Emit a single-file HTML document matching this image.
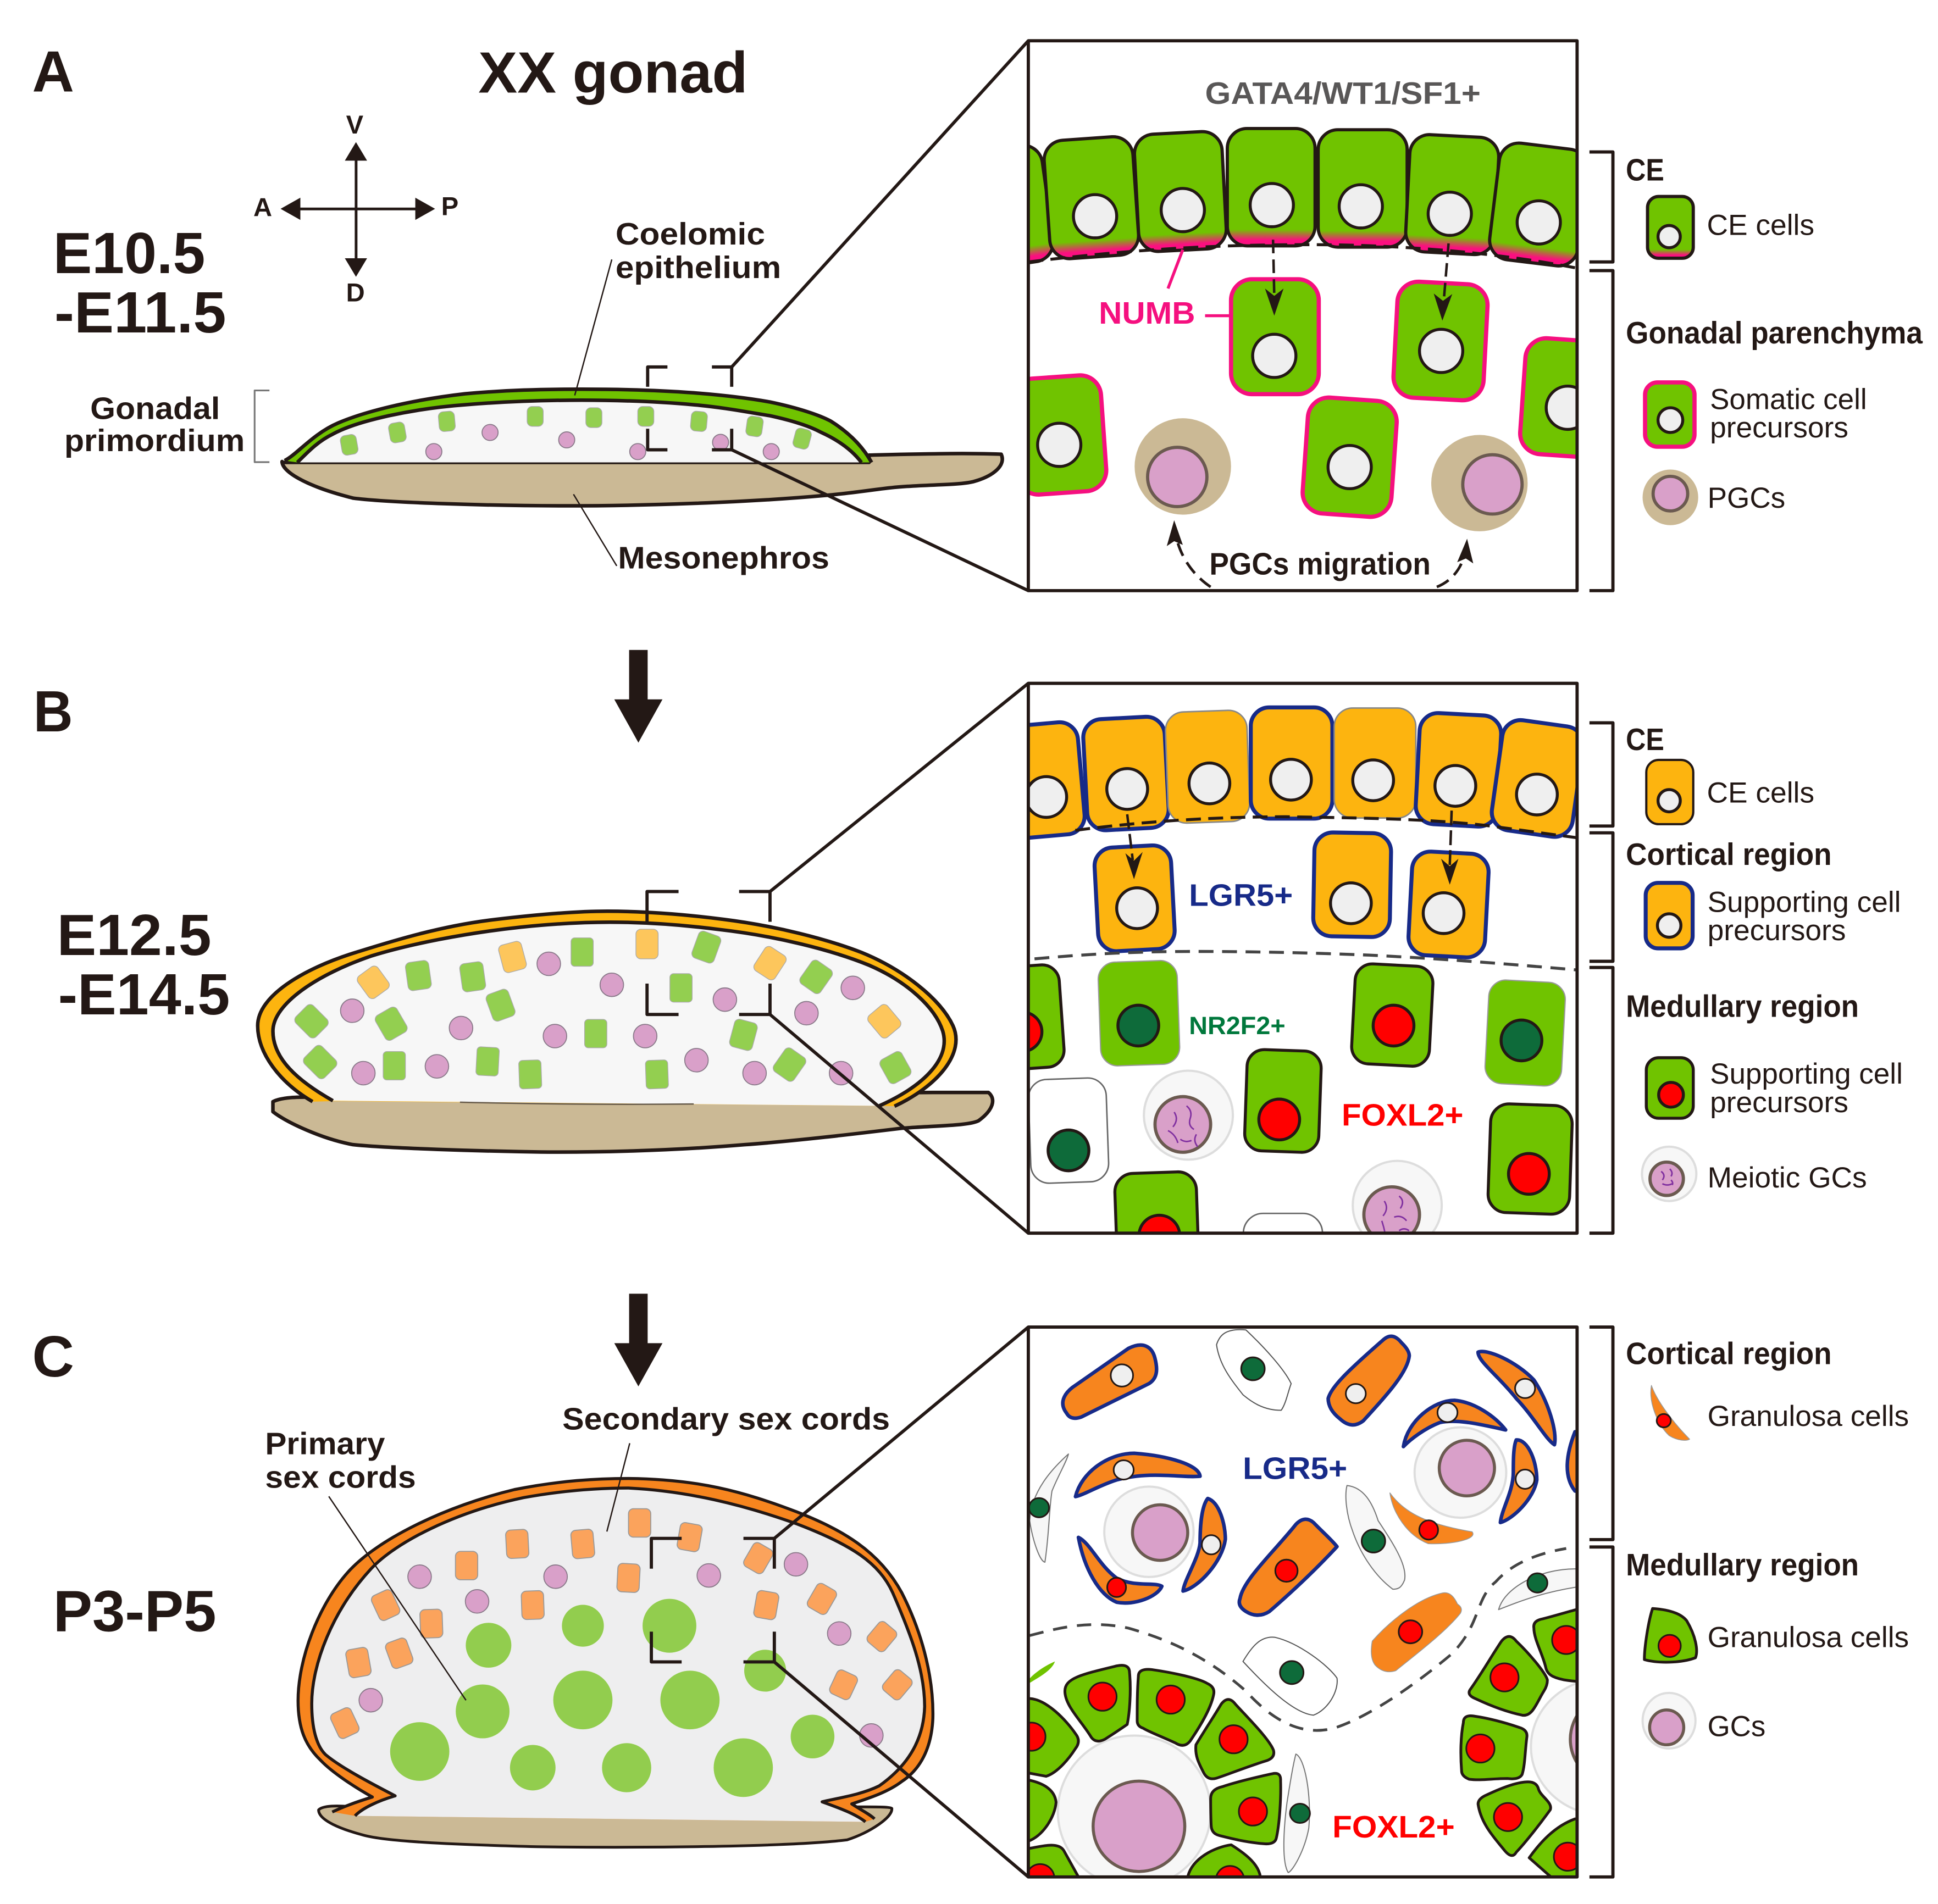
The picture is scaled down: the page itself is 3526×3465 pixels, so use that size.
<!DOCTYPE html>
<html><head><meta charset="utf-8"><title>XX gonad</title>
<style>
html,body{margin:0;padding:0;background:#fff}
svg{display:block}
path,rect,ellipse,circle{stroke-linejoin:round}
text{font-family:"Liberation Sans",sans-serif;fill:#231815}
.b{font-weight:bold;font-size:25px}
.big{font-weight:bold;font-size:47px}
.r{font-size:23.5px}
.ns{vector-effect:non-scaling-stroke}
.g{fill:#70c300;stroke:#231815;stroke-width:2.4}
.gg{fill:#70c300;stroke:#999;stroke-width:1}
.gp{fill:#70c300;stroke:#f5107f;stroke-width:3.4}
.grad{fill:url(#pg);stroke:#231815;stroke-width:2.6}
.n{fill:#efefef;stroke:#231815;stroke-width:2.4}
.red{fill:#ff0000;stroke:#231815;stroke-width:2.4}
.dg{fill:#0e6b3a;stroke:#231815;stroke-width:2.4}
.ob{fill:#fdb40f;stroke:#172a88;stroke-width:3.2}
.og{fill:#fdb40f;stroke:#888;stroke-width:1.2}
.pk{fill:#d9a0c9;stroke:#6b5a50;stroke-width:2.6}
.gc{fill:#f7f7f7;stroke:#ddd;stroke-width:1.8}
.w{fill:#fff;stroke:#666;stroke-width:1.2}
.sq{fill:none;stroke:#8030a0;stroke-width:1.2}
.sg{fill:#93cf50;stroke:#aaa;stroke-width:.6}
.sp{fill:#d9a0c9;stroke:#8a7a8a;stroke-width:.8}
.sy{fill:#fdc65c;stroke:#aaa;stroke-width:.6}
.so{fill:#fba35c;stroke:#999;stroke-width:.8}
.line{fill:none;stroke:#231815;stroke-width:2.6}
.thin{fill:none;stroke:#231815;stroke-width:1.1}
.zo{fill:#f7851e;stroke:#172a88;stroke-width:6.5;vector-effect:non-scaling-stroke}
.zop{fill:#f7851e;stroke:#999;stroke-width:1.5;vector-effect:non-scaling-stroke}
.zg{fill:#70c300;stroke:#231815;stroke-width:5;vector-effect:non-scaling-stroke}
.zw{fill:#fff;stroke:#555;stroke-width:2;vector-effect:non-scaling-stroke}
.zl{fill:#f7f7f7;stroke:#777;stroke-width:2;vector-effect:non-scaling-stroke}
.zr{fill:#ff0000;stroke:#231815;stroke-width:3;vector-effect:non-scaling-stroke}
.zd{fill:#0e6b3a;stroke:#231815;stroke-width:3;vector-effect:non-scaling-stroke}
.zn{fill:#efefef;stroke:#231815;stroke-width:3;vector-effect:non-scaling-stroke}
.zgc{fill:#f7f7f7;stroke:#ddd;stroke-width:4;vector-effect:non-scaling-stroke}
.zpk{fill:#d9a0c9;stroke:#6b5a50;stroke-width:5.5;vector-effect:non-scaling-stroke}
.zk{fill:none;stroke:#231815;stroke-width:6.5;vector-effect:non-scaling-stroke}
.zdash{fill:none;stroke:#444;stroke-width:5;stroke-dasharray:26 18;vector-effect:non-scaling-stroke}
</style></head>
<body>
<svg xmlns="http://www.w3.org/2000/svg" width="3526" height="3465" viewBox="0 0 1568 1540.9">
<defs>
<linearGradient id="pg" x1="0" y1="0" x2="0" y2="1">
<stop offset="0" stop-color="#70c300"/><stop offset=".86" stop-color="#70c300"/><stop offset=".95" stop-color="#fb0f80"/><stop offset="1" stop-color="#fb0f80"/>
</linearGradient>
<clipPath id="ca"><rect x="832" y="33" width="444" height="445"/></clipPath>
<clipPath id="cb"><rect x="832" y="553" width="444" height="445"/></clipPath>
<clipPath id="cc"><rect x="832" y="1074" width="444" height="445"/></clipPath>
</defs>
<rect width="1568" height="1541" fill="#fff"/>

<!-- Headings -->
<text class="big" x="26" y="74" textLength="34" lengthAdjust="spacingAndGlyphs">A</text>
<text class="big" x="387" y="75" textLength="218" lengthAdjust="spacingAndGlyphs">XX gonad</text>
<text class="big" x="43" y="221" textLength="123" lengthAdjust="spacingAndGlyphs">E10.5</text>
<text class="big" x="44" y="269" textLength="139" lengthAdjust="spacingAndGlyphs">-E11.5</text>
<text class="big" x="27" y="592" textLength="32" lengthAdjust="spacingAndGlyphs">B</text>
<text class="big" x="46" y="773" textLength="125" lengthAdjust="spacingAndGlyphs">E12.5</text>
<text class="big" x="47" y="821" textLength="139" lengthAdjust="spacingAndGlyphs">-E14.5</text>
<text class="big" x="26" y="1114" textLength="34" lengthAdjust="spacingAndGlyphs">C</text>
<text class="big" x="43" y="1320" textLength="132" lengthAdjust="spacingAndGlyphs">P3-P5</text>

<!-- Axis -->
<g fill="#231815">
<rect x="287" y="125" width="2.2" height="90"/><rect x="240" y="168" width="100" height="2.2"/>
<polygon points="288,115 279,130 297,130"/><polygon points="288,224 279,209 297,209"/>
<polygon points="227,169 243,160 243,178"/><polygon points="352,169 336,160 336,178"/>
</g>
<text class="b" style="font-size:21px" x="280" y="108">V</text>
<text class="b" style="font-size:21px" x="205" y="175">A</text>
<text class="b" style="font-size:21px" x="357" y="174">P</text>
<text class="b" style="font-size:21px" x="280" y="244">D</text>

<!-- Big arrows -->
<g fill="#231815">
<rect x="509" y="526" width="15" height="42"/><polygon points="497,566 536,566 516.5,601"/>
<rect x="509" y="1047" width="15" height="42"/><polygon points="497,1087 536,1087 516.5,1122"/>
</g>

<!-- Gonad A -->
<g transform="translate(191.200,266.800) scale(.4112,.1482)">
<path class="zk" fill="#cbb995" style="fill:#cbb995" d="M90,720 C90,770 130,850 230,920 C300,945 500,962 650,962 C800,962 1000,945 1160,905 C1220,890 1260,870 1300,860 C1360,845 1420,850 1450,830 C1490,800 1515,740 1505,680 C1430,672 1320,680 1245,685 L1245,725 L90,725Z"/>
<path d="M95,715 C120,680 150,570 200,510 C250,450 340,385 450,350 C530,330 600,325 680,325 C760,325 830,330 900,345 C960,358 1010,375 1050,395 C1110,430 1150,470 1170,500 C1210,570 1235,650 1250,725 L120,725Z" fill="#70c300"/>
<path d="M120,725 C140,670 160,610 190,570 C220,525 260,495 300,470 C350,440 400,420 450,410 C530,392 600,385 680,385 C760,385 840,395 900,410 C960,425 1005,450 1050,470 C1100,500 1130,530 1150,560 C1190,610 1215,670 1230,725Z" fill="#f7f7f7"/>
<path class="zk" d="M95,715 C120,680 150,570 200,510 C250,450 340,385 450,350 C530,330 600,325 680,325 C760,325 830,330 900,345 C960,358 1010,375 1050,395 C1110,430 1150,470 1170,500 C1210,570 1235,650 1250,725"/>
<path class="zk" d="M120,725 C140,670 160,610 190,570 C220,525 260,495 300,470 C350,440 400,420 450,410 C530,392 600,385 680,385 C760,385 840,395 900,410 C960,425 1005,450 1050,470 C1100,500 1130,530 1150,560 C1190,610 1215,670 1230,725"/>
</g>
<g class="sg">
<rect x="276" y="352" width="13" height="16" rx="4" transform="rotate(-10 282.5 360)"/>
<rect x="315" y="342" width="13" height="16" rx="4" transform="rotate(-10 321.5 350)"/>
<rect x="355" y="333" width="13" height="16" rx="4" transform="rotate(-5 361.5 341)"/>
<rect x="426.500" y="329" width="13" height="16" rx="4"/>
<rect x="474" y="330" width="13" height="16" rx="4"/>
<rect x="516" y="329" width="13" height="16" rx="4"/>
<rect x="559" y="333" width="13" height="16" rx="4" transform="rotate(5 565.5 341)"/>
<rect x="604" y="337" width="13" height="16" rx="4" transform="rotate(8 610 345)"/>
<rect x="642.500" y="347" width="13" height="16" rx="4" transform="rotate(15 649 355)"/>
</g>
<g class="sp">
<circle cx="351" cy="365.500" r="6.500"/><circle cx="396.500" cy="350" r="6.500"/><circle cx="458.500" cy="356" r="6.500"/><circle cx="516" cy="365.500" r="6.500"/><circle cx="583" cy="358" r="6.500"/><circle cx="624" cy="365.500" r="6.500"/>
</g>
<path class="thin" d="M495,210 L465,320"/><path class="thin" d="M499,458 L464,400"/>
<path fill="none" stroke="#777" stroke-width="1.400" d="M218,316 H206 V374 H218"/>
<text class="b" x="498" y="198" textLength="121" lengthAdjust="spacingAndGlyphs">Coelomic</text>
<text class="b" x="498" y="225" textLength="134" lengthAdjust="spacingAndGlyphs">epithelium</text>
<text class="b" x="73" y="339" textLength="105" lengthAdjust="spacingAndGlyphs">Gonadal</text>
<text class="b" x="52" y="365" textLength="146" lengthAdjust="spacingAndGlyphs">primordium</text>
<text class="b" x="500" y="460" textLength="171" lengthAdjust="spacingAndGlyphs">Mesonephros</text>
<path class="line" d="M540,297 H524 V313 M576,297 H592 V313 M524,347 V364 H540 M576,364 H592 V347"/>
<path class="line" d="M592,297 L832,33 M592,364 L832,478"/>

<!-- Panel A -->
<rect x="832" y="33" width="444" height="445" fill="#fff"/>
<g clip-path="url(#ca)">
<rect class="grad" x="776" y="120" width="72" height="95" rx="16" transform="rotate(-8 812 167)"/>
<rect class="grad" x="847" y="112" width="72" height="96" rx="16" transform="rotate(-4 883 160)"/>
<rect class="grad" x="919.500" y="107.500" width="71" height="95" rx="16" transform="rotate(-3 955 155)"/>
<rect class="grad" x="993" y="104" width="71" height="95" rx="16"/>
<rect class="grad" x="1066.500" y="105" width="72" height="95" rx="16"/>
<rect class="grad" x="1139" y="110" width="72" height="95" rx="16" transform="rotate(3 1175 157)"/>
<rect class="grad" x="1209" y="118" width="72" height="95" rx="16" transform="rotate(7 1245 165)"/>
<path d="M832,212 C930,200 1000,198 1060,198 C1130,198 1210,204 1276,217" fill="none" stroke="#231815" stroke-width="2.400" stroke-dasharray="12 6"/>
<circle class="n" cx="886" cy="175" r="17.500"/><circle class="n" cx="957" cy="170" r="17.500"/><circle class="n" cx="1029" cy="166" r="17.500"/><circle class="n" cx="1101" cy="167" r="17.500"/><circle class="n" cx="1173" cy="173" r="17.500"/><circle class="n" cx="1245" cy="180" r="17.500"/>
<rect class="gp" x="996" y="226" width="71" height="93" rx="17"/>
<rect class="gp" x="1129" y="229" width="73" height="94" rx="17" transform="rotate(3 1166 276)"/>
<rect class="gp" x="1232" y="275" width="72" height="94" rx="17" transform="rotate(4 1268 322)"/>
<rect class="gp" x="821" y="305" width="72" height="94" rx="17" transform="rotate(-4 857 352)"/>
<rect class="gp" x="1056" y="323" width="72" height="94" rx="17" transform="rotate(4 1092 370)"/>
<circle class="n" cx="1031" cy="288" r="17.500"/><circle class="n" cx="1166" cy="284" r="17.500"/><circle class="n" cx="1268.500" cy="330" r="17.500"/><circle class="n" cx="857" cy="360" r="17.500"/><circle class="n" cx="1092" cy="378" r="17.500"/>
<circle cx="957" cy="377.500" r="39" fill="#cbb995"/><circle class="pk" cx="952.500" cy="386" r="24"/>
<circle cx="1197" cy="391" r="39" fill="#cbb995"/><circle class="pk" cx="1207.500" cy="392" r="24"/>
<path d="M1030,194 L1031,240" fill="none" stroke="#231815" stroke-width="2" stroke-dasharray="11 5"/>
<path d="M1031,255.500 l-7.500,-22 l7.500,6 l7.500,-6Z" fill="#231815"/>
<path d="M1172,197 L1168,245" fill="none" stroke="#231815" stroke-width="2" stroke-dasharray="11 5"/>
<path d="M1167,259.500 l-7,-22 l7.500,6 l7.500,-5.500Z" fill="#231815"/>
<path d="M957,202 L945,233.500 M975,255.500 H995" fill="none" stroke="#f5107f" stroke-width="2.400"/>
<path d="M979.500,475 C966,466 956,452 952,436" fill="none" stroke="#231815" stroke-width="2.200" stroke-dasharray="11 6"/>
<path d="M950,421 l-6,21 l6,-4 l7,3Z" fill="#231815"/>
<path d="M1162.500,475 C1175,470 1182,460 1185,449" fill="none" stroke="#231815" stroke-width="2.200" stroke-dasharray="11 6"/>
<path d="M1187,436 l-8,19 l7,-3 l6,4Z" fill="#231815"/>
</g>
<rect x="832" y="33" width="444" height="445" fill="none" stroke="#231815" stroke-width="2.600"/>
<text class="b" style="fill:#595757" x="975" y="84" textLength="223" lengthAdjust="spacingAndGlyphs">GATA4/WT1/SF1+</text>
<text class="b" style="fill:#f5107f" x="889" y="262" textLength="78" lengthAdjust="spacingAndGlyphs">NUMB</text>
<text class="b" x="978.500" y="465" textLength="179" lengthAdjust="spacingAndGlyphs">PGCs migration</text>

<!-- Legend A -->
<path class="line" d="M1286,123 H1305 V212 H1286 M1286,219 H1305 V478 H1286"/>
<text class="b" x="1315.500" y="146" textLength="31" lengthAdjust="spacingAndGlyphs">CE</text>
<rect class="grad" x="1333" y="159" width="37" height="50" rx="9"/>
<circle class="n" cx="1350.500" cy="191.500" r="9"/>
<text class="r" x="1381" y="190" textLength="87" lengthAdjust="spacingAndGlyphs">CE cells</text>
<text class="b" x="1315.500" y="278" textLength="240" lengthAdjust="spacingAndGlyphs">Gonadal parenchyma</text>
<rect class="gp" x="1331" y="309.500" width="40" height="52" rx="10"/>
<circle class="n" cx="1351.500" cy="340" r="10"/>
<text class="r" x="1383.500" y="331" textLength="127" lengthAdjust="spacingAndGlyphs">Somatic cell</text>
<text class="r" x="1383.500" y="354" textLength="112" lengthAdjust="spacingAndGlyphs">precursors</text>
<circle cx="1351.500" cy="402.500" r="22.500" fill="#cbb995"/><circle class="pk" cx="1351.500" cy="399.500" r="14"/>
<text class="r" x="1381.500" y="411" textLength="63" lengthAdjust="spacingAndGlyphs">PGCs</text>

<!-- Gonad B -->
<g transform="translate(191.200,711.500) scale(.4112,.1482)">
<path class="zk" style="fill:#cbb995" d="M72,1215 C90,1190 120,1190 150,1190 L1370,1165 L1480,1165 C1495,1200 1490,1260 1460,1320 C1440,1345 1390,1345 1310,1360 C1220,1390 1100,1430 1000,1450 C850,1485 700,1492 600,1490 C480,1485 300,1470 230,1450 C170,1420 100,1330 72,1270Z"/>
<path d="M150,1215 C85,1110 42,950 42,800 C42,640 130,490 235,400 C300,344 400,255 510,220 C580,197 660,175 730,175 C810,175 885,193 960,220 C1060,255 1160,325 1230,400 C1310,490 1385,650 1410,800 C1435,950 1380,1130 1295,1240 L1265,1238 L190,1212Z" fill="#fdb40f"/>
<path d="M190,1210 C120,1100 72,980 72,830 C72,680 160,520 265,420 C340,355 450,295 560,262 C620,245 680,235 735,235 C810,235 880,250 950,275 C1060,310 1170,385 1245,470 C1320,560 1375,700 1390,830 C1405,970 1360,1120 1265,1238Z" fill="#f7f7f7"/>
<path class="zk" d="M150,1215 C85,1110 42,950 42,800 C42,640 130,490 235,400 C300,344 400,255 510,220 C580,197 660,175 730,175 C810,175 885,193 960,220 C1060,255 1160,325 1230,400 C1310,490 1385,650 1410,800 C1435,950 1380,1130 1295,1240"/>
<path class="zk" d="M190,1210 C120,1100 72,980 72,830 C72,680 160,520 265,420 C340,355 450,295 560,262 C620,245 680,235 735,235 C810,235 880,250 950,275 C1060,310 1170,385 1245,470 C1320,560 1375,700 1390,830 C1405,970 1360,1120 1265,1238"/>
<path d="M440,1218 Q680,1234 900,1228" fill="none" stroke="#665a4a" stroke-width="2.500" class="ns"/>
</g>
<g class="sy">
<rect x="292" y="784" width="20" height="22" rx="4" transform="rotate(-36 302 795)"/>
<rect x="405" y="763" width="19" height="23" rx="4" transform="rotate(-15 414.500 774)"/>
<rect x="514.500" y="752" width="18" height="24" rx="4"/>
<rect x="613" y="768" width="20" height="23" rx="4" transform="rotate(33 623 779.500)"/>
<rect x="705.500" y="815" width="20" height="23" rx="4" transform="rotate(-40 715.500 826.500)"/>
</g>
<g class="sg">
<rect x="462" y="759" width="18" height="23" rx="3"/>
<rect x="562" y="755" width="19" height="23" rx="4" transform="rotate(20 571.500 766.500)"/>
<rect x="329" y="778" width="19" height="23" rx="4" transform="rotate(-8 338.500 789.500)"/>
<rect x="373" y="779" width="19" height="23" rx="4" transform="rotate(-8 382.500 791)"/>
<rect x="395.500" y="802" width="19" height="23" rx="4" transform="rotate(-20 405 813.500)"/>
<rect x="542" y="788" width="18" height="23" rx="3"/>
<rect x="650" y="779" width="20" height="23" rx="4" transform="rotate(35 660 791)"/>
<rect x="306.500" y="817" width="20" height="23" rx="4" transform="rotate(-30 316.500 828.500)"/>
<rect x="242" y="815" width="20" height="23" rx="4" transform="rotate(-45 252 826.500)"/>
<rect x="249" y="848" width="20" height="23" rx="4" transform="rotate(-45 259 859.500)"/>
<rect x="310" y="851" width="18" height="23" rx="3"/>
<rect x="385.500" y="847.500" width="18" height="23" rx="3" transform="rotate(3 394.500 859)"/>
<rect x="420" y="858" width="18" height="23" rx="3" transform="rotate(-2 429 869.500)"/>
<rect x="473" y="825" width="18" height="23" rx="3"/>
<rect x="592" y="826" width="19" height="23" rx="4" transform="rotate(15 601.500 837.500)"/>
<rect x="522.500" y="858" width="18" height="23" rx="3" transform="rotate(-2 531.500 869.500)"/>
<rect x="628.500" y="850" width="20" height="23" rx="4" transform="rotate(35 638.500 862)"/>
<rect x="714.500" y="853" width="20" height="22" rx="4" transform="rotate(-29 724.500 864)"/>
</g>
<g class="sp">
<circle cx="444" cy="780" r="9.500"/><circle cx="495" cy="797" r="9.500"/><circle cx="285" cy="818" r="9.500"/><circle cx="373" cy="832" r="9.500"/><circle cx="690" cy="799.500" r="9.500"/><circle cx="586.500" cy="809" r="9.500"/><circle cx="652.500" cy="820" r="9.500"/><circle cx="449" cy="838.500" r="9.500"/><circle cx="522" cy="838.500" r="9.500"/><circle cx="294" cy="868.500" r="9.500"/><circle cx="353.500" cy="863" r="9.500"/><circle cx="563.500" cy="858" r="9.500"/><circle cx="610.500" cy="868.500" r="9.500"/><circle cx="680.500" cy="868.500" r="9.500"/>
</g>
<path class="line" d="M549,721.500 H523.500 V746 M598,721.500 H623 V746 M523.500,796 V821 H549 M598,821 H623 V796"/>
<path class="line" d="M623,721.500 L832,553 M623,821 L832,998"/>

<!-- Panel B -->
<rect x="832" y="553" width="444" height="445" fill="#fff"/>
<g clip-path="url(#cb)">
<rect class="ob" x="809" y="586" width="66" height="91" rx="15" transform="rotate(-5 842 632)"/>
<rect class="ob" x="878" y="581" width="66" height="90" rx="15" transform="rotate(-3 911 626)"/>
<rect class="og" x="944" y="575.500" width="66" height="90" rx="15" transform="rotate(-2 977 620)"/>
<rect class="ob" x="1012" y="572.500" width="66" height="90" rx="15"/>
<rect class="og" x="1079.500" y="573" width="66" height="89" rx="15"/>
<rect class="ob" x="1147" y="578" width="66" height="90" rx="15" transform="rotate(3 1180 623)"/>
<rect class="ob" x="1211" y="585" width="66" height="90" rx="15" transform="rotate(8 1244 630)"/>
<path d="M870,672 C930,664 990,661 1040,661 C1110,662 1170,663 1217,670 L1276,678" fill="none" stroke="#231815" stroke-width="2.400" stroke-dasharray="12 6"/>
<circle class="n" cx="846.500" cy="645" r="16.500"/><circle class="n" cx="912" cy="638.500" r="16.500"/><circle class="n" cx="978.500" cy="634" r="16.500"/><circle class="n" cx="1044.500" cy="631" r="16.500"/><circle class="n" cx="1111" cy="631.500" r="16.500"/><circle class="n" cx="1177.500" cy="636" r="16.500"/><circle class="n" cx="1243.500" cy="643" r="16.500"/>
<rect class="ob" x="887" y="685" width="62" height="84" rx="15" transform="rotate(-3 918 727)"/>
<rect class="ob" x="1063" y="674" width="62" height="84" rx="15" transform="rotate(1 1094 716)"/>
<rect class="ob" x="1141" y="690" width="62" height="84" rx="15" transform="rotate(3 1172 732)"/>
<circle class="n" cx="920" cy="735" r="16.500"/><circle class="n" cx="1093" cy="731" r="16.500"/><circle class="n" cx="1168" cy="739" r="16.500"/>
<path d="M912,659 L916.500,696 M1174.500,656 L1173,700" fill="none" stroke="#231815" stroke-width="2" stroke-dasharray="12 4"/>
<path d="M917.500,711.500 l-7,-21 l7,6 l7,-7Z M1173,716 l-7,-21 l7,6 l7,-6Z" fill="#231815"/>
<path d="M837,776 C880,772 920,770 965,770 C1010,770 1060,771 1108,773 C1170,776 1230,781 1276,785" fill="none" stroke="#444" stroke-width="2.400" stroke-dasharray="12 7"/>
<rect class="g" x="797" y="782" width="62" height="83" rx="14" transform="rotate(-4 828 823)"/><circle class="red" cx="827" cy="835" r="16"/>
<rect class="gg" x="889.500" y="778" width="64" height="84" rx="14" transform="rotate(-2 921 820)"/><circle class="dg" cx="921" cy="830" r="16.500"/>
<rect class="g" x="1095" y="781" width="63" height="81" rx="14" transform="rotate(3 1127 821)"/><circle class="red" cx="1127.500" cy="830" r="16.500"/>
<rect class="gg" x="1203" y="794" width="62" height="84" rx="14" transform="rotate(3 1234 836)"/><circle class="dg" cx="1231" cy="842" r="16.500"/>
<rect class="g" x="1008" y="850" width="60" height="82" rx="14" transform="rotate(2 1038 891)"/><circle class="red" cx="1035" cy="906" r="16.500"/>
<rect class="g" x="1205" y="894" width="66" height="88" rx="15" transform="rotate(2 1238 938)"/><circle class="red" cx="1237" cy="950" r="16.500"/>
<rect class="g" x="903" y="949" width="66" height="88" rx="15" transform="rotate(-2 936 992)"/><circle class="red" cx="938" cy="1000" r="16.500"/>
<rect class="w" x="833" y="873" width="63" height="84" rx="15" transform="rotate(-2 864 914)"/><circle class="dg" cx="864.500" cy="931" r="16.500"/>
<rect class="w" x="1006" y="982" width="64" height="84" rx="16"/>
<circle class="gc" cx="961.500" cy="902.500" r="36"/><circle class="pk" cx="957" cy="910" r="22.500"/>
<path class="sq" d="M950,900 q4,6 -1,12 M960,895 q5,4 3,10 q-2,6 3,9 M945,915 q6,3 8,10 M968,918 q-3,5 1,10 M955,922 q4,3 9,1"/>
<circle class="gc" cx="1130.500" cy="975.500" r="36"/><circle class="pk" cx="1126" cy="983" r="22.500"/>
<path class="sq" d="M1120,972 q4,6 -1,12 M1132,968 q5,4 1,10 M1118,988 q2,6 3,12 M1128,985 q6,-2 10,3 M1132,996 q4,-3 8,0"/>
</g>
<rect x="832" y="553" width="444" height="445" fill="none" stroke="#231815" stroke-width="2.600"/>
<text class="b" style="fill:#172a88" x="962" y="733" textLength="84" lengthAdjust="spacingAndGlyphs">LGR5+</text>
<text class="b" style="fill:#00783c;font-size:20px" x="962" y="837" textLength="78" lengthAdjust="spacingAndGlyphs">NR2F2+</text>
<text class="b" style="fill:#ff0000" x="1085.500" y="911" textLength="98.500" lengthAdjust="spacingAndGlyphs">FOXL2+</text>

<!-- Legend B -->
<path class="line" d="M1286,585 H1305 V668.500 H1286 M1286,674 H1305 V778 H1286 M1286,783 H1305 V998 H1286"/>
<text class="b" x="1315.500" y="607" textLength="31" lengthAdjust="spacingAndGlyphs">CE</text>
<rect x="1332" y="615" width="38" height="52" rx="10" fill="#fdb40f" stroke="#231815" stroke-width="1.800"/>
<circle class="n" cx="1350.500" cy="648" r="9"/>
<text class="r" x="1381" y="649.500" textLength="87" lengthAdjust="spacingAndGlyphs">CE cells</text>
<text class="b" x="1315.500" y="700" textLength="166.500" lengthAdjust="spacingAndGlyphs">Cortical region</text>
<rect class="ob" x="1331.500" y="714.500" width="38" height="53" rx="10"/>
<circle class="n" cx="1350.500" cy="749" r="9.500"/>
<text class="r" x="1381.500" y="738" textLength="156.500" lengthAdjust="spacingAndGlyphs">Supporting cell</text>
<text class="r" x="1381.500" y="761" textLength="112" lengthAdjust="spacingAndGlyphs">precursors</text>
<text class="b" x="1315.500" y="823" textLength="188.500" lengthAdjust="spacingAndGlyphs">Medullary region</text>
<rect class="g" x="1332" y="856" width="38" height="49" rx="10"/>
<circle class="red" cx="1352" cy="886" r="10"/>
<text class="r" x="1383.500" y="877" textLength="156" lengthAdjust="spacingAndGlyphs">Supporting cell</text>
<text class="r" x="1383.500" y="900" textLength="112" lengthAdjust="spacingAndGlyphs">precursors</text>
<circle class="gc" cx="1350.500" cy="950" r="22"/><circle class="pk" cx="1348.500" cy="954" r="13.500"/>
<path class="sq" d="M1344,948 q4,3 1,7 M1351,946 q3,3 1,6 M1345,958 q4,2 8,0 M1352,955 q2,2 1,4"/>
<text class="r" x="1381.500" y="961" textLength="129" lengthAdjust="spacingAndGlyphs">Meiotic GCs</text>

<!-- Gonad C -->
<g transform="translate(213.500,1134) scale(.3687,.2423)">
<path d="M120,1365 C130,1350 160,1350 200,1355 L1320,1355 C1345,1355 1375,1355 1378,1360 C1380,1390 1330,1440 1280,1465 C1150,1490 800,1492 600,1488 C400,1480 270,1470 220,1450 C170,1430 120,1400 120,1365Z" fill="#cbb995" stroke="#231815" stroke-width="5" class="ns"/>
<path d="M150,1372 C180,1350 210,1335 238,1322 C200,1290 150,1240 125,1200 C90,1150 75,1090 75,1000 C75,860 120,680 185,570 C250,460 400,350 550,295 C650,265 730,258 800,258 C950,260 1050,300 1170,370 C1270,430 1350,500 1400,640 C1450,790 1470,940 1468,1060 C1465,1160 1440,1230 1400,1270 C1370,1305 1330,1325 1290,1345 C1310,1365 1330,1380 1340,1395 L1320,1405 L200,1385Z" fill="#f7851e"/>
<path d="M200,1385 C215,1360 250,1335 288,1318 C240,1280 170,1225 135,1180 C115,1150 105,1090 105,1010 C105,880 150,700 235,560 C290,470 420,370 570,322 C650,300 730,290 800,290 C930,300 1050,345 1170,410 C1290,480 1350,540 1380,640 C1420,780 1450,900 1450,1020 C1448,1120 1420,1210 1350,1285 C1310,1315 1260,1325 1225,1338 C1265,1360 1300,1380 1320,1405Z" fill="#eeeeef"/>
<path class="zk" style="stroke-width:5.500" d="M150,1372 C180,1350 210,1335 238,1322 C200,1290 150,1240 125,1200 C90,1150 75,1090 75,1000 C75,860 120,680 185,570 C250,460 400,350 550,295 C650,265 730,258 800,258 C950,260 1050,300 1170,370 C1270,430 1350,500 1400,640 C1450,790 1470,940 1468,1060 C1465,1160 1440,1230 1400,1270 C1370,1305 1330,1325 1290,1345 C1310,1365 1330,1380 1340,1395"/>
<path class="zk" style="stroke-width:5.500" d="M200,1385 C215,1360 250,1335 288,1318 C240,1280 170,1225 135,1180 C115,1150 105,1090 105,1010 C105,880 150,700 235,560 C290,470 420,370 570,322 C650,300 730,290 800,290 C930,300 1050,345 1170,410 C1290,480 1350,540 1380,640 C1420,780 1450,900 1450,1020 C1448,1120 1420,1210 1350,1285 C1310,1315 1260,1325 1225,1338 C1265,1360 1300,1380 1320,1405"/>
<g fill="#92cd4e">
<ellipse cx="890" cy="750" rx="59" ry="90"/><ellipse cx="700" cy="750" rx="46" ry="70"/><ellipse cx="493" cy="815" rx="50" ry="75"/><ellipse cx="1100" cy="900" rx="46" ry="70"/><ellipse cx="700" cy="998" rx="65" ry="98"/><ellipse cx="935" cy="998" rx="65" ry="98"/><ellipse cx="480" cy="1036" rx="59" ry="90"/><ellipse cx="342" cy="1170" rx="65" ry="98"/><ellipse cx="1204" cy="1120" rx="48" ry="73"/><ellipse cx="590" cy="1224" rx="50" ry="76"/><ellipse cx="796" cy="1224" rx="54" ry="82"/><ellipse cx="1052" cy="1224" rx="65" ry="98"/>
</g>
</g>
<g class="so">
<rect x="508.500" y="1221" width="18" height="23" rx="4"/>
<rect x="549" y="1233" width="18" height="22" rx="4" transform="rotate(10 558 1244)"/>
<rect x="462.500" y="1238" width="18" height="23" rx="4" transform="rotate(-5 471.500 1249.500)"/>
<rect x="409.500" y="1238" width="18" height="23" rx="4" transform="rotate(-3 418.500 1249.500)"/>
<rect x="368.500" y="1255.500" width="18" height="23" rx="4"/>
<rect x="499.500" y="1265.500" width="18" height="23" rx="4" transform="rotate(3 508.500 1277)"/>
<rect x="604.500" y="1250" width="18" height="22" rx="4" transform="rotate(30 613.500 1261)"/>
<rect x="422" y="1287.500" width="18" height="23" rx="4" transform="rotate(-2 431 1299)"/>
<rect x="611" y="1288" width="18" height="22" rx="4" transform="rotate(10 620 1299)"/>
<rect x="656" y="1283" width="18" height="22" rx="4" transform="rotate(30 665 1294)"/>
<rect x="303" y="1288" width="18" height="22" rx="4" transform="rotate(-25 312 1299)"/>
<rect x="340" y="1302.500" width="18" height="23" rx="4" transform="rotate(-2 349 1314)"/>
<rect x="704.500" y="1314" width="18" height="21" rx="4" transform="rotate(40 713.500 1324.500)"/>
<rect x="281" y="1334" width="18" height="23" rx="4" transform="rotate(-10 290 1345.500)"/>
<rect x="314" y="1327" width="18" height="22" rx="4" transform="rotate(-20 323 1338)"/>
<rect x="673.500" y="1353" width="18" height="21" rx="4" transform="rotate(25 682.500 1363.500)"/>
<rect x="717" y="1353" width="18" height="21" rx="4" transform="rotate(40 726 1363.500)"/>
<rect x="270" y="1383.500" width="18" height="22" rx="4" transform="rotate(-25 279 1394.500)"/>
</g>
<g class="sp">
<circle cx="339.500" cy="1276" r="9.500"/><circle cx="449.500" cy="1276" r="9.500"/><circle cx="386" cy="1296" r="9.500"/><circle cx="573.500" cy="1275" r="9.500"/><circle cx="644" cy="1266" r="9.500"/><circle cx="679" cy="1322" r="9.500"/><circle cx="300" cy="1376" r="9.500"/><circle cx="705" cy="1404.500" r="9.500"/>
</g>
<path class="thin" d="M509.500,1168 L491,1239.500 M266,1211 L377,1376"/>
<text class="b" x="455" y="1157" textLength="265" lengthAdjust="spacingAndGlyphs">Secondary sex cords</text>
<text class="b" x="214.500" y="1177" textLength="97" lengthAdjust="spacingAndGlyphs">Primary</text>
<text class="b" x="214.500" y="1204" textLength="122" lengthAdjust="spacingAndGlyphs">sex cords</text>
<path class="line" d="M551.500,1245 H527 V1269.500 M601.500,1245 H626.500 V1269.500 M527,1320.500 V1345 H551.500 M601.500,1345 H626.500 V1320.500"/>
<path class="line" d="M626.500,1245 L832,1074 M626.500,1345 L832,1519"/>

<!-- Panel C -->
<rect x="832" y="1074" width="444" height="445" fill="#fff"/>
<g clip-path="url(#cc)">
<g transform="translate(822.600,1062.800) scale(.4755,.2998)">
<path class="zo" d="M85,270 C75,250 75,225 95,200 L190,95 C215,75 230,90 235,120 C240,150 240,175 225,190 L110,280 Q92,290 85,270Z"/>
<ellipse class="zn" cx="179" cy="168" rx="19" ry="30"/>
<path class="zw" d="M340,85 C345,60 355,40 390,45 C420,90 455,150 467,190 C462,210 458,245 450,262 C420,262 400,240 385,220 C365,180 345,140 340,85Z"/>
<ellipse class="zd" cx="402" cy="150" rx="20" ry="31"/>
<path class="zo" d="M530,230 C535,200 560,160 625,70 Q640,50 655,80 Q668,100 668,115 C665,160 630,220 590,290 Q570,315 550,285 Q530,260 530,230Z"/>
<ellipse class="zn" cx="577" cy="217" rx="17" ry="26"/>
<path class="zo" d="M785,105 C800,95 850,130 880,180 C905,240 920,320 915,355 C900,340 880,280 850,230 C820,170 785,130 785,105Z"/>
<ellipse class="zn" cx="865" cy="203" rx="17" ry="26"/>
<ellipse class="zgc" cx="755" cy="430" rx="78" ry="122"/>
<ellipse class="zpk" cx="766" cy="418" rx="47" ry="75"/>
<path class="zo" d="M658,360 C665,290 710,235 745,235 C780,240 815,280 832,315 C790,300 750,285 720,295 C695,310 670,340 658,360Z"/>
<ellipse class="zn" cx="733" cy="268" rx="17" ry="26"/>
<path class="zo" d="M850,342 C870,340 885,400 885,450 C880,500 845,555 823,565 C825,530 845,480 845,430 C845,400 845,360 850,342Z"/>
<ellipse class="zn" cx="865" cy="448" rx="16" ry="26"/>
<path class="zo" d="M950,320 C935,380 930,440 950,480 L970,480 L970,320Z"/>
<path class="zop" d="M635,485 C660,540 700,570 775,590 C785,610 740,625 700,622 C665,600 640,540 635,485Z"/>
<ellipse class="zr" cx="701" cy="585" rx="16" ry="26"/>
<path class="zl" d="M562,465 C590,470 605,510 615,560 C640,620 665,680 660,720 C655,740 650,745 640,745 C610,710 585,650 572,590 C560,540 558,490 562,465Z"/>
<ellipse class="zd" cx="607" cy="615" rx="20" ry="31"/>
<path class="zl" d="M88,380 C60,420 25,480 22,560 C28,620 40,670 48,672 C55,600 55,530 60,480 C70,440 85,400 88,380Z"/>
<ellipse class="zd" cx="38" cy="525" rx="17" ry="26"/>
<ellipse class="zgc" cx="225" cy="590" rx="76" ry="122"/>
<ellipse class="zpk" cx="244" cy="592" rx="47" ry="75"/>
<path class="zo" d="M100,495 C110,430 155,378 200,378 C260,385 310,410 312,440 C280,445 230,425 170,450 C140,465 115,490 100,495Z"/>
<ellipse class="zn" cx="182" cy="423" rx="17" ry="26"/>
<path class="zo" d="M325,500 C345,510 355,570 355,610 C350,670 310,740 283,750 C285,720 310,660 312,620 C312,570 315,520 325,500Z"/>
<ellipse class="zn" cx="331" cy="625" rx="16" ry="26"/>
<path class="zo" d="M105,605 C125,620 140,680 170,715 C200,740 235,725 247,737 C240,765 200,790 170,780 C140,760 115,690 105,605Z"/>
<ellipse class="zr" cx="170" cy="740" rx="16" ry="26"/>
<path class="zo" d="M380,770 C385,720 440,640 475,570 Q490,545 505,565 C520,590 535,610 545,630 C510,690 470,750 430,805 Q410,825 390,805 Q375,790 380,770Z"/>
<ellipse class="zr" cx="459" cy="695" rx="19" ry="30"/>
<path class="zdash" d="M22,870 C60,855 120,825 190,850 C280,890 340,950 390,1020 C430,1090 480,1145 540,1120 C600,1090 680,1000 740,920 C790,840 780,770 815,725 C840,680 880,650 935,635"/>
<path class="zop" d="M605,885 C630,840 680,770 725,755 Q740,750 750,785 Q760,795 755,810 C730,860 680,920 645,965 Q625,975 610,950 Q600,930 605,885Z"/>
<ellipse class="zr" cx="670" cy="860" rx="20" ry="31"/>
<path class="zl" d="M820,800 C830,740 890,690 950,690 L970,690 L970,735 C900,750 860,775 820,800Z"/>
<ellipse class="zd" cx="886" cy="728" rx="17" ry="26"/>
<path class="zw" d="M385,940 C400,900 415,870 440,875 C480,890 530,950 545,985 C548,1020 530,1070 505,1085 C470,1080 420,1000 385,940Z"/>
<ellipse class="zd" cx="468" cy="970" rx="20" ry="31"/>
<ellipse class="zgc" cx="200" cy="1345" rx="130" ry="205"/>
<ellipse class="zpk" cx="208" cy="1385" rx="78" ry="122"/>
<path class="zg" d="M82,1020 C82,985 110,975 170,952 Q192,945 192,970 C195,1020 192,1080 188,1110 Q170,1130 150,1150 Q135,1162 127,1145 C110,1100 82,1060 82,1020Z"/>
<ellipse class="zr" cx="146" cy="1035" rx="24" ry="38"/>
<path class="zg" d="M207,980 Q207,958 230,962 C265,970 310,985 325,1000 Q338,1010 335,1030 C330,1070 310,1120 295,1155 Q285,1175 270,1160 C250,1145 225,1130 215,1120 Q205,1115 205,1100 C205,1060 205,1020 207,980Z"/>
<ellipse class="zr" cx="262" cy="1043" rx="24" ry="38"/>
<path class="zg" d="M348,1055 Q360,1030 372,1055 C395,1095 430,1150 437,1180 Q440,1200 425,1208 C390,1225 360,1245 340,1255 Q325,1262 318,1240 C310,1215 303,1195 305,1165 C320,1125 335,1090 348,1055Z"/>
<ellipse class="zr" cx="369" cy="1150" rx="24" ry="38"/>
<path class="zg" d="M330,1310 Q330,1285 350,1278 C380,1262 415,1250 435,1243 Q450,1238 449,1262 C450,1310 447,1380 442,1415 Q440,1435 420,1432 C390,1428 365,1418 345,1410 Q332,1405 331,1385 C330,1360 330,1335 330,1310Z"/>
<ellipse class="zr" cx="402" cy="1345" rx="24" ry="38"/>
<path class="zg" d="M0,1040 L20,1040 C50,1040 85,1100 100,1135 Q110,1155 100,1175 C90,1200 70,1240 50,1250 L0,1235Z"/>
<ellipse class="zr" cx="25" cy="1143" rx="24" ry="38"/>
<path class="zg" d="M0,1260 L20,1260 C50,1270 65,1290 67,1320 C65,1360 45,1410 20,1425 L0,1430Z"/>
<path class="zg" d="M0,1445 L20,1445 C40,1440 70,1425 80,1450 L108,1530 L0,1530Z"/>
<ellipse class="zr" cx="40" cy="1525" rx="24" ry="38"/>
<path class="zg" d="M290,1530 C295,1470 340,1440 365,1435 C390,1460 415,1490 415,1530Z"/>
<ellipse class="zr" cx="363" cy="1530" rx="24" ry="38"/>
<path class="zg" style="stroke:none" d="M0,990 L20,990 C30,970 50,950 65,940 C60,965 35,985 20,1000 L0,1010Z"/>
<path class="zl" d="M475,1190 C490,1200 502,1300 497,1390 C490,1450 470,1505 462,1510 C450,1480 455,1380 460,1320 C465,1270 470,1220 475,1190Z"/>
<ellipse class="zd" cx="482" cy="1350" rx="17" ry="26"/>
<ellipse class="zgc" cx="1000" cy="1170" rx="125" ry="185"/>
<ellipse class="zpk" cx="1020" cy="1150" rx="78" ry="122"/>
<path class="zg" d="M880,850 Q878,830 895,825 C920,815 950,800 960,797 L980,797 L980,995 C945,995 925,990 912,980 Q902,972 900,955 C895,920 880,880 880,850Z"/>
<ellipse class="zr" cx="935" cy="882" rx="24" ry="38"/>
<path class="zg" d="M825,885 Q838,860 850,885 C870,915 900,970 903,990 Q903,1005 897,1020 C885,1050 878,1090 860,1085 C830,1075 800,1055 780,1040 Q765,1030 772,1015 C790,975 810,920 825,885Z"/>
<ellipse class="zr" cx="830" cy="983" rx="24" ry="38"/>
<path class="zg" d="M760,1105 Q760,1082 780,1088 C810,1095 840,1110 855,1118 Q870,1125 868,1145 C865,1180 865,1220 860,1245 Q855,1260 835,1256 C810,1256 790,1262 770,1258 Q757,1250 757,1235 C755,1195 755,1145 760,1105Z"/>
<ellipse class="zr" cx="789" cy="1175" rx="24" ry="38"/>
<path class="zg" d="M785,1325 Q785,1310 800,1300 C820,1285 850,1265 870,1265 Q885,1265 888,1285 C892,1305 912,1320 908,1340 C890,1380 865,1430 850,1455 Q843,1475 830,1450 C815,1420 790,1380 785,1325Z"/>
<ellipse class="zr" cx="836" cy="1360" rx="24" ry="38"/>
<path class="zg" d="M872,1470 C890,1430 915,1385 950,1365 L980,1365 L980,1530 L915,1530Z"/>
<ellipse class="zr" cx="938" cy="1467" rx="24" ry="38"/>
</g>
</g>
<rect x="832" y="1074" width="444" height="445" fill="none" stroke="#231815" stroke-width="2.600"/>
<text class="b" style="fill:#172a88" x="1005.500" y="1197" textLength="84.500" lengthAdjust="spacingAndGlyphs">LGR5+</text>
<text class="b" style="fill:#ff0000" x="1078" y="1487" textLength="99" lengthAdjust="spacingAndGlyphs">FOXL2+</text>

<!-- Legend C -->
<path class="line" d="M1286,1074 H1305 V1246 H1286 M1286,1252 H1305 V1519 H1286"/>
<text class="b" x="1315.500" y="1104" textLength="166.500" lengthAdjust="spacingAndGlyphs">Cortical region</text>
<text class="b" x="1315.500" y="1275" textLength="188.500" lengthAdjust="spacingAndGlyphs">Medullary region</text>
<g transform="translate(822.600,1062.800) scale(.4755,.2998)">
<path class="zop" d="M1080,195 C1075,240 1090,300 1110,330 C1125,345 1140,345 1145,340 C1120,300 1090,240 1080,195Z"/>
<ellipse class="zr" cx="1101" cy="290" rx="12" ry="18"/>
<path class="zg" d="M1082,797 C1110,800 1130,810 1140,830 C1155,870 1160,910 1155,930 C1130,945 1090,945 1068,935 C1068,900 1075,830 1082,797Z"/>
<ellipse class="zr" cx="1111" cy="898" rx="19" ry="30"/>
<ellipse class="zgc" cx="1110" cy="1100" rx="45" ry="75"/>
<ellipse class="zpk" cx="1106" cy="1118" rx="29" ry="47"/>
</g>
<text class="r" x="1381.500" y="1154" textLength="163" lengthAdjust="spacingAndGlyphs">Granulosa cells</text>
<text class="r" x="1381.500" y="1333" textLength="163" lengthAdjust="spacingAndGlyphs">Granulosa cells</text>
<text class="r" x="1381.500" y="1405" textLength="47" lengthAdjust="spacingAndGlyphs">GCs</text>
</svg>
</body></html>
